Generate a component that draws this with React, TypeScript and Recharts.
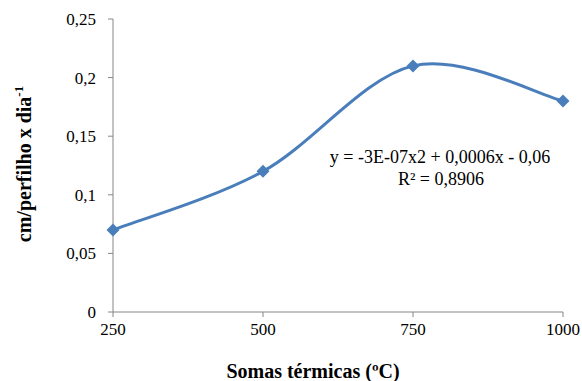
import { LineChart, Line, XAxis, YAxis } from "recharts";

const somas = [250, 500, 750, 1000];
const taxa = [0.07, 0.12, 0.21, 0.18];
const yTicks = [0, 0.05, 0.1, 0.15, 0.2, 0.25];

const data = somas.map((s, i) => ({ soma: s, taxa: taxa[i] }));

const fmt = (v: number) => String(v).replace(".", ",");

// Excel-like smoothed line (Catmull-Rom through the points)
const smoothCurve = (context: any) => {
  let pts: number[][] = [];
  return {
    areaStart() {},
    areaEnd() {},
    lineStart() {
      pts = [];
    },
    lineEnd() {
      if (!pts.length) return;
      context.moveTo(pts[0][0], pts[0][1]);
      for (let i = 0; i < pts.length - 1; i++) {
        const p0 = pts[i - 1] ?? pts[i];
        const p1 = pts[i];
        const p2 = pts[i + 1];
        const p3 = pts[i + 2] ?? pts[i + 1];
        context.bezierCurveTo(
          p1[0] + (p2[0] - p0[0]) / 6,
          p1[1] + (p2[1] - p0[1]) / 6,
          p2[0] - (p3[0] - p1[0]) / 6,
          p2[1] - (p3[1] - p1[1]) / 6,
          p2[0],
          p2[1]
        );
      }
    },
    point(x: number, y: number) {
      pts.push([x, y]);
    },
  };
};

const Diamond = (props: any) => {
  const { cx, cy } = props;
  if (cx == null || cy == null) return null;
  const r = 6.5;
  return (
    <path
      d={`M${cx},${cy - r} L${cx + r},${cy} L${cx},${cy + r} L${cx - r},${cy} Z`}
      fill="#4a7ebb"
    />
  );
};

const serif = "Liberation Serif";
const txt = { fontFamily: serif };
const axisColor = "#868686";

const renderXTick = (p: any) => (
  <text
    key={`x-${p.payload.value}`}
    x={p.x}
    y={p.y + 12}
    textAnchor="middle"
    style={txt}
    fontSize={17}
    fill="#000"
  >
    {p.payload.value}
  </text>
);

const renderYTick = (p: any) => (
  <text
    key={`y-${p.payload.value}`}
    x={p.x - 2}
    y={p.y + 6}
    textAnchor="end"
    style={txt}
    fontSize={17}
    fill="#000"
  >
    {fmt(p.payload.value)}
  </text>
);

export default function App() {
  return (
    <div style={{ position: "absolute", left: 0, top: 0 }}>
      <LineChart
        width={582}
        height={381}
        data={data}
        margin={{ top: 19, right: 19, bottom: 39, left: 53 }}
      >
        <XAxis
          dataKey="soma"
          type="number"
          domain={[250, 1000]}
          ticks={somas}
          height={30}
          stroke={axisColor}
          tickSize={5}
          tickMargin={6}
          tick={renderXTick}
        />
        <YAxis
          domain={[0, 0.25]}
          ticks={yTicks}
          width={60}
          stroke={axisColor}
          tickSize={5}
          tickMargin={10}
          tick={renderYTick}
        />
        <Line
          dataKey="taxa"
          type={smoothCurve as any}
          stroke="#4a7ebb"
          strokeWidth={3}
          dot={<Diamond />}
          activeDot={false}
          isAnimationActive={false}
        />
        <text x={440} y={163} textAnchor="middle" style={txt} fontSize={18} fill="#000">
          y = -3E-07x2 + 0,0006x - 0,06
        </text>
        <text x={441} y={185} textAnchor="middle" style={txt} fontSize={18} fill="#000">
          R² = 0,8906
        </text>
        <text
          x={313}
          y={378}
          textAnchor="middle"
          style={txt}
          fontWeight="bold"
          fontSize={20}
          fill="#000"
        >
          Somas térmicas (ºC)
        </text>
        <text
          transform="translate(31,164) rotate(-90)"
          textAnchor="middle"
          style={txt}
          fontWeight="bold"
          fontSize={20}
          fill="#000"
        >
          cm/perfilho x dia
          <tspan fontSize={13} dy={-8}>
            -1
          </tspan>
        </text>
      </LineChart>
    </div>
  );
}
